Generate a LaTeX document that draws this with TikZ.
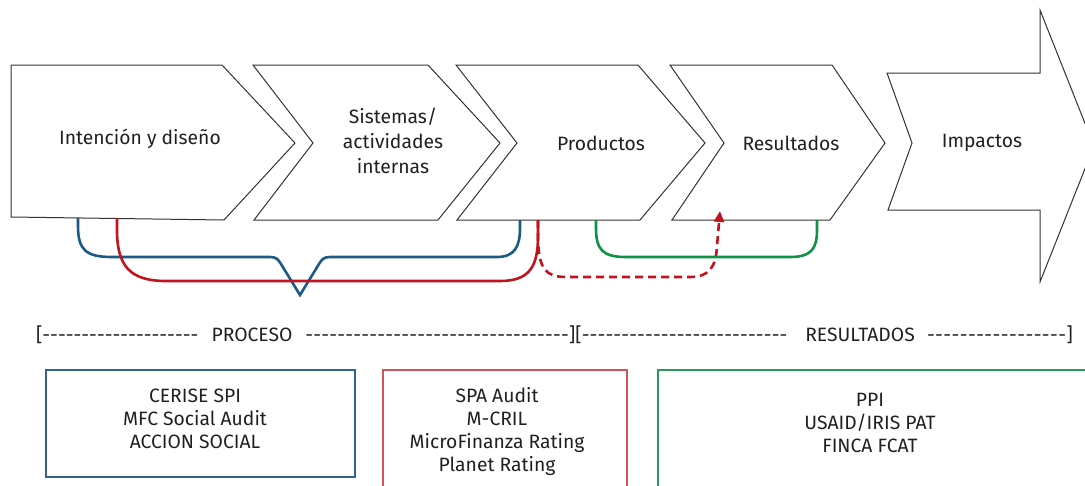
\documentclass[tikz,border=0pt]{standalone}
\usepackage{fontspec}
\setmainfont{Fira Sans}
\usetikzlibrary{arrows.meta}
\definecolor{cblue}{HTML}{1B5A85}
\definecolor{cred}{HTML}{C1141E}
\definecolor{cgreen}{HTML}{0E9345}
\definecolor{bblue}{HTML}{2F6590}
\definecolor{bred}{HTML}{D6525A}
\definecolor{bgreen}{HTML}{2C9A5C}
\definecolor{cgray}{HTML}{333333}
\definecolor{txt}{HTML}{231F20}
\newcommand\dashfill[1]{\makebox[#1]{\xleaders\hbox{-}\hfill}}
\begin{document}
\begin{tikzpicture}[x=1pt,y=-1pt,
  chev/.style={draw=cgray, line width=1pt, fill=white, line join=miter},
  lbl/.style={font=\fontsize{19.3}{25}\selectfont, text=txt, align=center, inner sep=0pt},
  brk/.style={font=\fontsize{19.3}{24}\selectfont, text=txt, inner sep=0pt},
  boxtxt/.style={font=\fontsize{19.3}{23}\selectfont, text=txt, align=center, inner sep=0pt},
  conn/.style={line width=2.6pt, line cap=butt},
  dconn/.style={conn, dash pattern=on 8pt off 5pt},
  box/.style={line width=1.2pt}]
\useasboundingbox (0,0) rectangle (1085,485);
\clip (0,0) rectangle (1085,485);
% chevrons
\draw[chev] (11,65) -- (222,65) -- (295,143) -- (224,220) -- (11,217) -- cycle;
\draw[chev] (253,65) -- (428,65) -- (500,143) -- (438,220) -- (254,220) -- (313,143) -- cycle;
\draw[chev] (456,65) -- (638,65) -- (705,143) -- (640,220) -- (457,220) -- (517,143) -- cycle;
\draw[chev] (670,65) -- (832,65) -- (885,143) -- (830,220) -- (672,220) -- (724,143) -- cycle;
\draw[chev] (887,73) -- (1040,73) -- (1040,10) -- (1094,146) -- (1040,282) -- (1040,210) -- (888,210) -- (912,143) -- cycle;
% chevron labels
\node[lbl, anchor=base] (t1) at (140,144) {Intención y diseño};
\node[lbl] (t2) at (393,141) {Sistemas/\\actividades\\internas};
\node[lbl, anchor=base] (t3) at (601,150) {Productos};
\node[lbl, anchor=base] (t4) at (791,150) {Resultados};
\node[lbl, anchor=base] (t5) at (982,147) {Impactos};
% connector ends
\coordinate (b1) at (78,218);
\coordinate (r1) at (117,218);
\coordinate (v) at (300,295);
\coordinate (b2) at (520,220);
\coordinate (r2) at (538,220);
\coordinate (g1) at (596,220);
\coordinate (ra) at (720,211);
\coordinate (g2) at (817,220);
% blue brace
\draw[conn, cblue] (b1) -- (78,226) .. controls (78,250) and (86,257) .. (112,257) -- (270,257)
  .. controls (276,257) and (278,259) .. (281,264) -- (v) -- (319,264)
  .. controls (322,259) and (324,257) .. (330,257) -- (497,257)
  .. controls (515,257) and (520,246) .. (520,228) -- (b2);
% red solid
\draw[conn, cred] (r1) -- (117,230) .. controls (117,266) and (130,281) .. (166,281) -- (500,281)
  .. controls (530,281) and (538,266) .. (538,236) -- (r2);
% red dashed arrow
\draw[dconn, cred, -{Triangle[length=11pt,width=10pt]}] (r2) -- (538,240) .. controls (539,268) and (545,277) .. (566,277) -- (690,277)
  .. controls (710,277) and (716,266) .. (717,246) -- (ra);
% green
\draw[conn, cgreen] (g1) -- (596,228) .. controls (596,250) and (603,257) .. (626,257) -- (790,257)
  .. controls (812,257) and (817,248) .. (817,230) -- (g2);
% bracket line
\node[brk, anchor=base west] (bl) at (36,341) {[\dashfill{156pt}};
\node[brk, anchor=base] (bp) at (252,341) {PROCESO};
\node[brk, anchor=base west] (bm) at (305,341) {\dashfill{264pt}][\dashfill{206pt}};
\node[brk, anchor=base] (br) at (860,341) {RESULTADOS};
\node[brk, anchor=base east] (be) at (1073,341) {\dashfill{140pt}]};
% boxes
\draw[box, bblue] (46,370) rectangle (355,477);
\draw[box, bred] (383,495) -- (383,370) -- (627,370) -- (627,495);
\draw[box, bgreen] (658,495) -- (658,370) -- (1095,370);
\node[boxtxt] (x1) at (195,418.4) {CERISE SPI\\MFC Social Audit\\ACCION SOCIAL};
\node[boxtxt] (x2) at (497,431.4) {SPA Audit\\M-CRIL\\MicroFinanza Rating\\Planet Rating};
\node[boxtxt] (x3) at (870,423.3) {PPI\\USAID/IRIS PAT\\FINCA FCAT};
\end{tikzpicture}
\end{document}
